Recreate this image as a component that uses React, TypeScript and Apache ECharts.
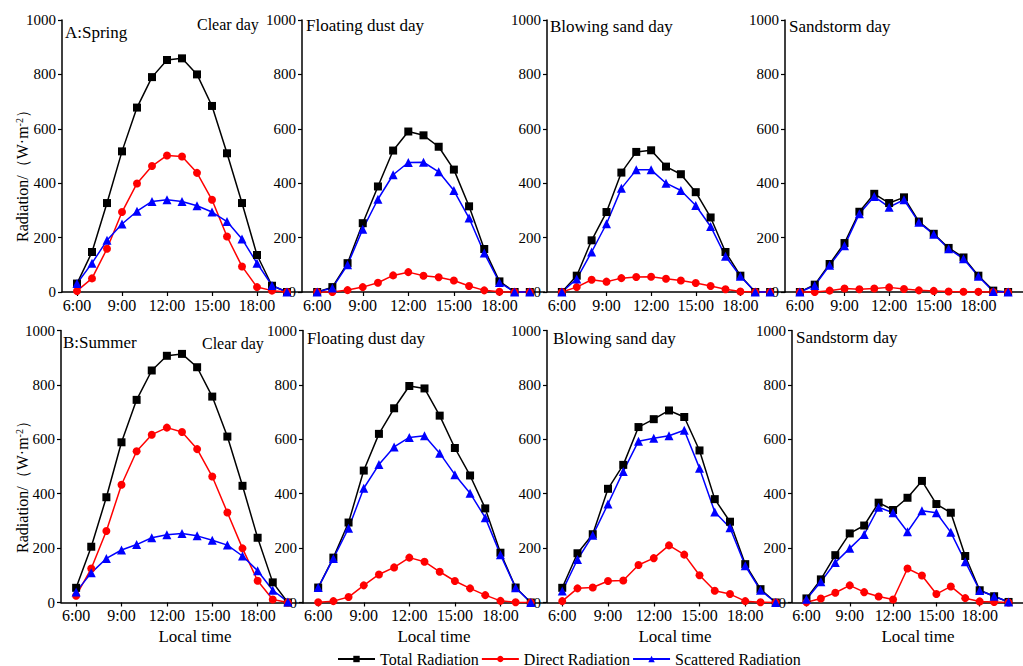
import React, { useEffect, useRef } from "react";
import * as echarts from "echarts";

const hours = [6, 7, 8, 9, 10, 11, 12, 13, 14, 15, 16, 17, 18, 19, 20];
const tickHours = [6, 9, 12, 15, 18];
const yTicks = [0, 200, 400, 600, 800, 1000];
const seriesNames = ["Total Radiation", "Direct Radiation", "Scattered Radiation"];
const seasonLabels = ["A:Spring", "B:Summer"];
const dayTypes = ["Clear day", "Floating dust day", "Blowing sand day", "Sandstorm day"];

// Spring
const springClearTotal = [31, 147, 327, 517, 678, 790, 853, 859, 800, 684, 510, 327, 136, 23, 0];
const springClearDirect = [4, 50, 159, 294, 399, 463, 502, 498, 438, 339, 204, 94, 18, 5, 0];
const springClearScattered = [31, 106, 190, 250, 297, 333, 339, 333, 317, 294, 259, 195, 106, 24, 0];

const springDustTotal = [0, 18, 106, 253, 388, 520, 590, 576, 534, 450, 315, 158, 39, 0, 0];
const springDustDirect = [0, 0, 7, 18, 34, 61, 73, 60, 54, 42, 22, 6, 1, 0, 0];
const springDustScattered = [0, 15, 100, 231, 341, 431, 476, 477, 442, 373, 272, 143, 35, 0, 0];

const springSandTotal = [0, 60, 190, 294, 439, 515, 521, 461, 433, 367, 274, 147, 60, 0, 0];
const springSandDirect = [0, 18, 45, 38, 51, 55, 56, 49, 42, 33, 22, 10, 2, 0, 0];
const springSandScattered = [0, 48, 147, 251, 381, 449, 449, 400, 373, 318, 241, 131, 58, 0, 0];

const springStormTotal = [0, 27, 103, 180, 295, 361, 327, 348, 259, 214, 162, 127, 60, 5, 0];
const springStormDirect = [0, 0, 5, 13, 10, 13, 17, 11, 6, 4, 2, 1, 1, 0, 0];
const springStormScattered = [0, 24, 98, 170, 288, 351, 312, 339, 256, 212, 159, 122, 58, 2, 0];

// Summer
const summerClearTotal = [54, 205, 387, 589, 745, 853, 907, 914, 865, 757, 610, 429, 238, 74, 0];
const summerClearDirect = [25, 125, 263, 433, 556, 617, 643, 627, 564, 463, 331, 199, 80, 11, 0];
const summerClearScattered = [39, 109, 162, 193, 213, 238, 249, 254, 245, 229, 211, 171, 117, 45, 2];

const summerDustTotal = [55, 165, 294, 485, 620, 714, 796, 787, 687, 568, 467, 346, 183, 55, 0];
const summerDustDirect = [1, 5, 20, 63, 103, 129, 165, 150, 113, 79, 52, 27, 6, 1, 0];
const summerDustScattered = [55, 162, 273, 420, 507, 572, 607, 613, 549, 470, 402, 312, 176, 54, 0];

const summerSandTotal = [54, 181, 251, 418, 506, 645, 674, 706, 682, 559, 380, 297, 141, 49, 0];
const summerSandDirect = [5, 52, 55, 79, 81, 138, 163, 210, 176, 100, 43, 31, 5, 1, 0];
const summerSandScattered = [42, 158, 247, 362, 482, 593, 604, 613, 633, 494, 333, 275, 135, 45, 0];

const summerStormTotal = [15, 85, 174, 254, 283, 367, 340, 385, 447, 362, 330, 171, 45, 23, 2];
const summerStormDirect = [1, 15, 36, 63, 38, 22, 11, 125, 99, 31, 59, 16, 4, 2, 0];
const summerStormScattered = [12, 76, 147, 199, 250, 350, 330, 260, 337, 330, 258, 150, 44, 23, 2];

const panels = [
  [springClearTotal, springClearDirect, springClearScattered],
  [springDustTotal, springDustDirect, springDustScattered],
  [springSandTotal, springSandDirect, springSandScattered],
  [springStormTotal, springStormDirect, springStormScattered],
  [summerClearTotal, summerClearDirect, summerClearScattered],
  [summerDustTotal, summerDustDirect, summerDustScattered],
  [summerSandTotal, summerSandDirect, summerSandScattered],
  [summerStormTotal, summerStormDirect, summerStormScattered],
];

const FONT = "Liberation Serif";
const colors = ["#000000", "#ff0000", "#0000ff"];
const symbols = ["rect", "circle", "triangle"];
const symbolSizes = [8, 8, 9];

const gridBoxes = [
  { left: 62, top: 20, width: 240 },
  { left: 302, top: 20, width: 243 },
  { left: 547, top: 20, width: 238 },
  { left: 785, top: 20, width: 240 },
  { left: 61, top: 330.5, width: 242 },
  { left: 303, top: 330.5, width: 243 },
  { left: 547, top: 330.5, width: 244 },
  { left: 792, top: 330.5, width: 239 },
];

export default function App() {
  const ref = useRef<HTMLDivElement>(null);
  useEffect(() => {
    if (!ref.current) return;
    const chart = echarts.init(ref.current, undefined, { renderer: "svg" });

    const grid = gridBoxes.map((g) => ({ left: g.left, top: g.top, width: g.width, height: 272, containLabel: false }));
    const xAxis = gridBoxes.map((_, i) => ({
      type: "value",
      gridIndex: i,
      min: 5,
      max: 21,
      axisLine: { show: true, onZero: false, lineStyle: { color: "#000", width: 1.5 } },
      axisTick: { show: true, inside: false, length: 4, customValues: tickHours, lineStyle: { color: "#000", width: 1.2 } },
      axisLabel: {
        show: true,
        customValues: tickHours,
        formatter: (v: number) => `${v}:00`,
        color: "#000",
        fontFamily: FONT,
        fontSize: 16,
        margin: 5,
      },
      splitLine: { show: false },
    }));
    const yAxis = gridBoxes.map((_, i) => ({
      type: "value",
      gridIndex: i,
      min: 0,
      max: 1000,
      interval: 200,
      axisLine: { show: true, lineStyle: { color: "#000", width: 1.5 } },
      axisTick: { show: true, inside: false, length: 4, lineStyle: { color: "#000", width: 1.2 } },
      axisLabel: {
        show: true,
        color: "#000",
        fontFamily: FONT,
        fontSize: 15,
        margin: 6,
        formatter: (v: number) => String(v),
      },
      splitLine: { show: false },
    }));

    const series: any[] = [];
    panels.forEach((panel, i) => {
      panel.forEach((arr, t) => {
        series.push({
          type: "line",
          name: seriesNames[t],
          xAxisIndex: i,
          yAxisIndex: i,
          data: hours.map((h, k) => [h, arr[k]]),
          symbol: symbols[t],
          symbolSize: symbolSizes[t],
          lineStyle: { color: colors[t], width: 1.5 },
          itemStyle: { color: colors[t] },
          clip: false,
        });
      });
    });

    const textStyle = (text: string, size = 17) => ({
      text,
      fill: "#000",
      fontFamily: FONT,
      fontSize: size,
      verticalAlign: "middle",
    });

    const titlePos = [
      { x: 306, y: 25 },
      { x: 550, y: 26 },
      { x: 789, y: 26 },
      { x: 307, y: 338 },
      { x: 553, y: 338 },
      { x: 796, y: 337 },
    ];
    const graphic: any[] = [
      { type: "text", x: 65, y: 32, style: textStyle(seasonLabels[0]) },
      { type: "text", x: 197, y: 24, style: textStyle(dayTypes[0], 16) },
      { type: "text", x: 63, y: 342, style: textStyle(seasonLabels[1]) },
      { type: "text", x: 202, y: 343, style: textStyle(dayTypes[0], 16) },
    ];
    [1, 2, 3, 1, 2, 3].forEach((d, k) => {
      graphic.push({ type: "text", x: titlePos[k].x, y: titlePos[k].y, style: textStyle(dayTypes[d]) });
    });
    [195, 434, 675, 918].forEach((cx) => {
      graphic.push({
        type: "text",
        x: cx,
        y: 636,
        style: { ...textStyle("Local time"), align: "center" },
      });
    });
    [172, 483].forEach((cy) => {
      graphic.push({
        type: "text",
        x: 22,
        y: cy,
        rotation: Math.PI / 2,
        style: {
          text: "{a|Radiation/（W·m}{s|-2}{a|）}",
          align: "center",
          verticalAlign: "middle",
          fill: "#000",
          rich: {
            a: { fontFamily: FONT, fontSize: 16, fill: "#000" },
            s: { fontFamily: FONT, fontSize: 10, fill: "#000", verticalAlign: "top" },
          },
        },
      });
    });

    chart.setOption({
      animation: false,
      backgroundColor: "#ffffff",
      textStyle: { fontFamily: FONT },
      grid,
      xAxis,
      yAxis,
      series,
      graphic,
      legend: {
        data: seriesNames,
        left: 337,
        top: 651,
        padding: 0,
        itemWidth: 37,
        itemHeight: 8,
        itemGap: 2,
        textStyle: { fontFamily: FONT, fontSize: 16, color: "#000" },
      },
    });
    return () => chart.dispose();
  }, []);
  return (
    <div
      ref={ref}
      style={{ position: "fixed", left: 0, top: 0, width: 1023, height: 666, background: "#fff" }}
    />
  );
}
